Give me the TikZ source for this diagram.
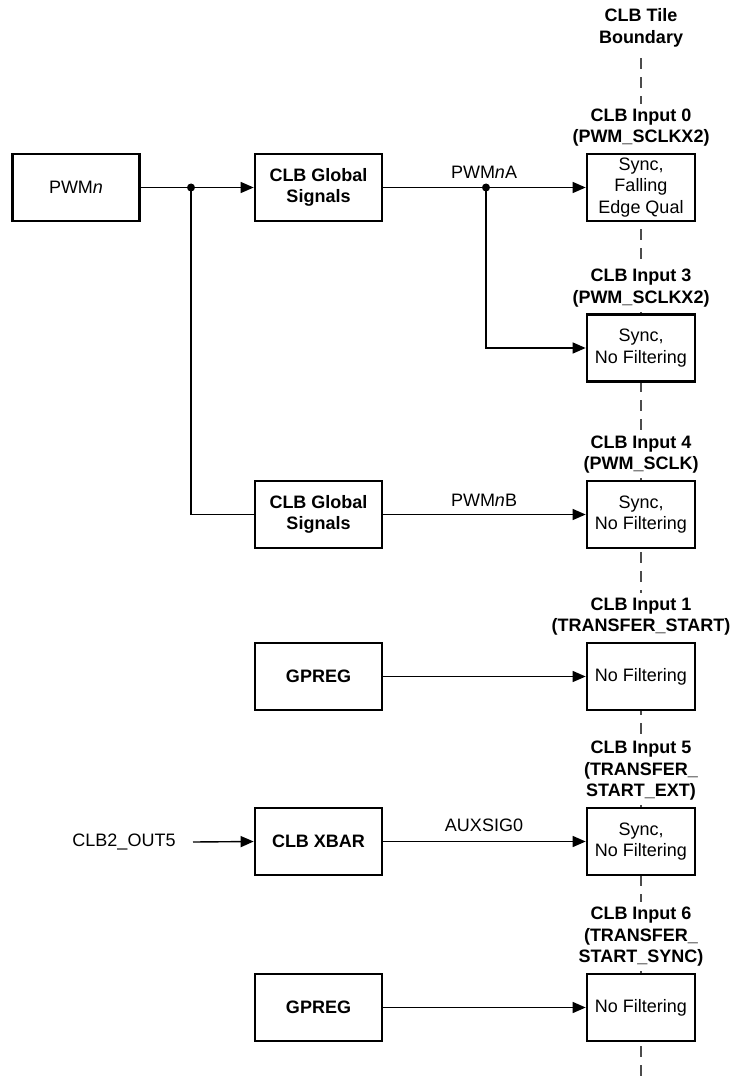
\documentclass[tikz,border=0pt]{standalone}
\usepackage{fontspec}
\setmainfont{Liberation Sans}
\usetikzlibrary{arrows.meta,positioning,calc}
\begin{document}
\begin{tikzpicture}[x=1pt,y=-1pt,
  font=\fontsize{18}{21.5}\selectfont,
  box/.style={draw, fill=white, line width=2.7pt, minimum height=67pt, inner sep=0pt, align=center},
  lbox/.style={box, minimum width=127pt},
  lboxb/.style={lbox, font=\fontsize{18}{21.5}\selectfont\bfseries},
  rbox/.style={box, minimum width=108pt},
  lbl/.style={font=\fontsize{18}{21.5}\selectfont\bfseries, align=center, fill=white, inner xsep=1pt, inner ysep=5pt},
  sig/.style={inner sep=1pt},
  conn/.style={line width=1.4pt, -{Triangle[length=13pt,width=11pt]}},
  wire/.style={line width=1.4pt},
  bnd/.style={line width=1.4pt, draw=black!70, dash pattern=on 11pt off 8pt},
  jdot/.style={circle, fill, inner sep=0pt, minimum size=8pt}]
\useasboundingbox (0,0) rectangle (732,1078);

% tile boundary
\node[lbl] (title) at (641,28) {CLB Tile\\Boundary};
\coordinate (bend) at (641,1078);
\draw[bnd, shorten <=6pt] (title) -- (bend);

% left column
\node[lbox] (pwm) at (76,187.5) {PWM\textit{n}};
\node[lboxb] (gs1) at (318.5,187.5) {CLB Global\\Signals};
\node[lboxb] (gs2) at (318.5,514.5) {CLB Global\\Signals};
\node[lboxb] (gp1) at (318.5,676.5) {GPREG};
\node[lboxb] (xb) at (318.5,841.5) {CLB XBAR};
\node[lboxb] (gp2) at (318.5,1007.5) {GPREG};
\node[sig] (cout) at (124,842) {CLB2\_OUT5};
\coordinate (cin) at (193,842);

% right column
\node[rbox] (b0) at (641,187.5) {Sync,\\Falling\\Edge Qual};
\node[rbox] (b3) at (641,348) {Sync,\\No Filtering};
\node[rbox] (b4) at (641,514.5) {Sync,\\No Filtering};
\node[rbox] (b1) at (641,676.5) {No Filtering};
\node[rbox] (b5) at (641,841.5) {Sync,\\No Filtering};
\node[rbox] (b6) at (641,1007.5) {No Filtering};

\node[lbl, above=1pt of b0] (l0) {CLB Input 0\\(PWM\_SCLKX2)};
\node[lbl, above=1pt of b3] (l3) {CLB Input 3\\(PWM\_SCLKX2)};
\node[lbl, above=1pt of b4] (l4) {CLB Input 4\\(PWM\_SCLK)};
\node[lbl, above=1pt of b1] (l1) {CLB Input 1\\(TRANSFER\_START)};
\node[lbl, above=1pt of b5] (l5) {CLB Input 5\\(TRANSFER\_\\START\_EXT)};
\node[lbl, above=1pt of b6] (l6) {CLB Input 6\\(TRANSFER\_\\START\_SYNC)};

% junctions
\node[jdot] (j1) at (191,187.5) {};
\node[jdot] (j2) at (486,187.5) {};

% signal labels
\node[sig] (sa) at (484,172) {PWM\textit{n}A};
\node[sig] (sb) at (484,500) {PWM\textit{n}B};
\node[sig] (sx) at (484,825) {AUXSIG0};

% connectors
\draw[wire] (pwm.east) -- (j1.center);
\draw[conn] (j1.center) -- (gs1.west);
\draw[wire] (gs1.east) -- (j2.center);
\draw[conn] (j2.center) -- (b0.west);
\draw[conn] (j2.center) |- (b3.west);
\draw[wire] (j1.center) |- (gs2.west);
\draw[conn] (gs2.east) -- (b4.west);
\draw[conn] (gp1.east) -- (b1.west);
\draw[conn] (cin) -- (xb.west);
\draw[conn] (xb.east) -- (b5.west);
\draw[conn] (gp2.east) -- (b6.west);
\end{tikzpicture}
\end{document}
